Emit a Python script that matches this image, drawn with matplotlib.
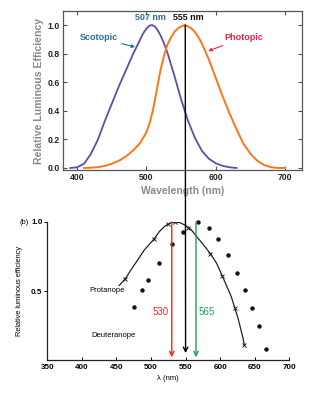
import matplotlib
matplotlib.use("Agg")
import matplotlib.pyplot as plt
from matplotlib.patches import ConnectionPatch

plt.rcParams['font.family'] = ['Liberation Sans', 'DejaVu Sans']

# top panel: scotopic / photopic curves
scot_nm = [390, 400, 410, 420, 430, 440, 450, 460, 470, 480, 490, 495, 500, 504, 508,
           512, 516, 520, 525, 530, 535, 540, 550, 560, 570, 580, 590, 600, 610, 620, 630]
scot_val = [0.0, 0.005, 0.03, 0.10, 0.20, 0.33, 0.45, 0.57, 0.68, 0.79, 0.89, 0.94,
            0.975, 0.995, 1.0, 0.99, 0.965, 0.93, 0.875, 0.81, 0.73, 0.65, 0.48, 0.33,
            0.21, 0.12, 0.065, 0.033, 0.015, 0.005, 0.0]
phot_nm = [410, 420, 430, 440, 450, 460, 470, 480, 490, 500, 505, 510, 515, 520, 525,
           530, 535, 540, 545, 550, 555, 560, 565, 570, 575, 580, 590, 600, 610, 620,
           630, 640, 650, 660, 670, 680, 690, 700]
phot_val = [0.0, 0.002, 0.006, 0.015, 0.03, 0.05, 0.08, 0.12, 0.17, 0.25, 0.32, 0.42,
            0.55, 0.68, 0.78, 0.86, 0.91, 0.95, 0.975, 0.99, 1.0, 0.99, 0.975, 0.95,
            0.915, 0.87, 0.76, 0.63, 0.50, 0.38, 0.27, 0.17, 0.10, 0.05, 0.02, 0.005,
            0.0, 0.0]

# bottom panel: protanope curve + marks, deuteranope dots
prot_curve_nm = [454, 463, 470, 480, 490, 504, 512, 520, 528, 535, 542, 550, 558, 566,
                 575, 586, 595, 603, 610, 616, 621, 626, 630, 633, 635]
prot_curve_val = [0.54, 0.59, 0.645, 0.72, 0.795, 0.875, 0.93, 0.97, 0.993, 1.0, 0.995,
                  0.975, 0.945, 0.895, 0.84, 0.77, 0.70, 0.61, 0.53, 0.46, 0.38, 0.30,
                  0.22, 0.16, 0.11]
prot_nm = [463, 504, 525, 535, 554, 586, 603, 621, 635]
prot_val = [0.59, 0.875, 0.983, 1.0, 0.96, 0.77, 0.61, 0.38, 0.11]
deut_nm = [475.5, 486.6, 495.4, 511, 530.6, 545.8, 567.8, 583.3, 596.5, 610.7,
           623.8, 635.6, 646.3, 655.6, 666.7]
deut_val = [0.386, 0.507, 0.58, 0.70, 0.84, 0.93, 1.0, 0.955, 0.875, 0.76, 0.63,
            0.507, 0.38, 0.25, 0.08]

W, H = 331, 403
fig = plt.figure(figsize=(W / 100, H / 100), dpi=100)

# ---- top panel ----
ax1 = fig.add_axes([63 / W, 1 - 170 / H, 239 / W, 159 / H])
ax1.plot(scot_nm, scot_val, color='#5b4fa8', lw=1.3)
ax1.plot(phot_nm, phot_val, color='#ff7518', lw=1.4)
ax1.set_xlim(379.5, 724.5)
ax1.set_ylim(-0.014, 1.098)
ax1.set_xticks([400, 500, 600, 700])
ax1.set_yticks([0.0, 0.2, 0.4, 0.6, 0.8, 1.0])
ax1.set_yticklabels(['0.0', '0.2', '0.4', '0.6', '0.8', '1.0'])
ax1.tick_params(direction='in', top=True, right=True, length=3, width=0.8,
                color='#555555', labelsize=6.2, labelcolor='#222222', pad=2)
for lab in ax1.get_xticklabels() + ax1.get_yticklabels():
    lab.set_fontweight('bold')
for sp in ax1.spines.values():
    sp.set_color('#555555')
    sp.set_linewidth(0.9)
ax1.set_xlabel('Wavelength (nm)', fontsize=7.5, fontweight='bold', color='#8a8a8a', labelpad=3)
ax1.set_ylabel('Relative Luminous Efficiency', fontsize=7.6, fontweight='bold',
               color='#8a8a8a', labelpad=3)

ax1.text(505, 1.056, '507 nm', color='#2e6e8e', fontsize=6.5, fontweight='bold',
         ha='center', va='center')
ax1.text(561, 1.056, '555 nm', color='#111111', fontsize=6.5, fontweight='bold',
         ha='center', va='center')
ax1.annotate('Scotopic', xy=(483.5, 0.846), xytext=(431, 0.91), color='#2e6e8e',
             fontsize=6.5, fontweight='bold', ha='center', va='center',
             arrowprops=dict(arrowstyle='-|>', color='#2e6e8e', lw=0.8,
                             mutation_scale=5, shrinkA=1, shrinkB=0))
ax1.annotate('Photopic', xy=(589, 0.818), xytext=(640, 0.91), color='#e8254a',
             fontsize=6.5, fontweight='bold', ha='center', va='center',
             arrowprops=dict(arrowstyle='-|>', color='#e8254a', lw=0.8,
                             mutation_scale=5, shrinkA=1, shrinkB=0))

# ---- bottom panel ----
ax2 = fig.add_axes([47.3 / W, 1 - 360 / H, 242 / W, 138 / H])
ax2.plot(prot_curve_nm, prot_curve_val, color='#222222', lw=0.9)
ax2.plot(prot_nm, prot_val, ls='none', marker='x', color='#222222', ms=2.5, mew=0.7)
ax2.plot(deut_nm, deut_val, ls='none', marker='o', color='#111111', ms=2.2,
         clip_on=False)
ax2.set_xlim(350, 700)
ax2.set_ylim(0, 1.0)
ax2.set_xticks([350, 400, 450, 500, 550, 600, 650, 700])
ax2.set_yticks([0.5, 1.0])
ax2.set_yticklabels(['0.5', '1.0'])
ax2.spines['top'].set_visible(False)
ax2.spines['right'].set_visible(False)
for sp in ('left', 'bottom'):
    ax2.spines[sp].set_linewidth(0.9)
    ax2.spines[sp].set_color('#222222')
ax2.tick_params(axis='x', direction='in', length=2, width=0.7, labelsize=5.8, pad=3)
ax2.tick_params(axis='y', direction='out', length=2, width=0.7, labelsize=5.8, pad=1.5)
for lab in ax2.get_xticklabels() + ax2.get_yticklabels():
    lab.set_fontweight('bold')
ax2.set_xlabel('λ (nm)', fontsize=5.5, labelpad=3)
ax2.set_ylabel('Relative luminous efficiency', fontsize=5.3, labelpad=6)
ax2.text(-0.078, 1.0, '(b)', transform=ax2.transAxes, fontsize=5.4,
         ha='right', va='center')
ax2.text(462, 0.5, 'Protanope', fontsize=5.5, ha='right', va='center')
ax2.text(478, 0.176, 'Deuteranope', fontsize=5.5, ha='right', va='center')

ax2.annotate('', xy=(530, 0.02), xytext=(530, 1.0),
             arrowprops=dict(arrowstyle='->', color='#ff2020', lw=1.0, mutation_scale=8,
                             shrinkA=0, shrinkB=0))
ax2.annotate('', xy=(565, 0.02), xytext=(565, 1.0),
             arrowprops=dict(arrowstyle='->', color='#1fa050', lw=1.0, mutation_scale=8,
                             shrinkA=0, shrinkB=0))
ax2.text(525, 0.35, '530', color='#ff2020', fontsize=7, ha='right', va='center')
ax2.text(569, 0.35, '565', color='#1fa050', fontsize=7, ha='left', va='center')

con = ConnectionPatch(xyA=(556, 1.0), coordsA=ax1.transData,
                      xyB=(550, 0.05), coordsB=ax2.transData,
                      arrowstyle='->', color='black', lw=1.0, mutation_scale=8,
                      shrinkA=0, shrinkB=0)
fig.add_artist(con)

fig.savefig('out.png', dpi=100)
